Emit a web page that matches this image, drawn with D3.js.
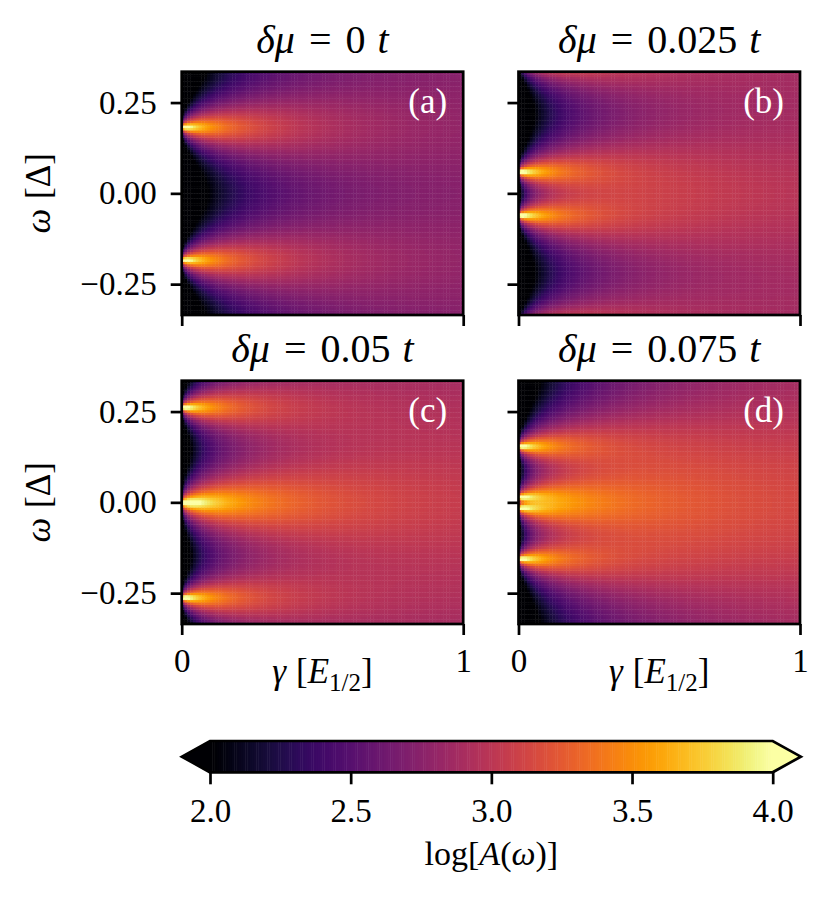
<!DOCTYPE html>
<html>
<head>
<meta charset="utf-8">
<script src="https://cdn.jsdelivr.net/npm/d3@7"></script>
<style>
  body { margin: 0; background: #fff; }
  text { font-family: "Liberation Serif", "DejaVu Serif", serif; fill: #000; }
</style>
</head>
<body>
<div id="chart"></div>
<script>
// panel titles (delta mu in units of t) and corner tags
const deltaMu = ["0", "0.025", "0.05", "0.075"];
const panelTags = ["(a)", "(b)", "(c)", "(d)"];

// level energies read off the bright streaks at gamma -> 0 (positive half, mirrored), units of Delta
// levels past the +-0.335 window are estimated from the glow along the edges
const levelsA = [0.183, 0.549, 0.915, 1.281, 1.647];
const levelsB = [0.06, 0.37, 0.68, 0.99, 1.30, 1.61];
const levelsC = [0, 0.262, 0.60, 0.95, 1.30, 1.65];
const levelsD = [0.015, 0.155, 0.58, 0.72, 1.10, 1.25, 1.60];

const yTicks = [-0.25, 0, 0.25];
const xTicks = [0, 1];
const cbTicks = [2.0, 2.5, 3.0, 3.5, 4.0];
const omegaLim = [-0.335, 0.335];
const gammaLim = [0, 1];
const colorLim = [2, 4];

// spectral function A(w) = amp * sum g/((w-e)^2+g^2), g = gScale*gamma + gFloor
const amp = 73;
const gScale = 0.2;
const gFloor = 0.001;
const nGamma = 100, nOmega = 100;

const width = 832, height = 899;
const panelW = 281.5, panelH = 243.3;
const colX = [181.7, 518.5];
const rowY = [71.7, 380.7];
const fontStack = "'Liberation Serif', 'DejaVu Serif', serif";

const svg = d3.select("#chart").append("svg")
    .attr("width", width)
    .attr("height", height);

const color = d3.scaleSequential(d3.interpolateInferno).domain(colorLim).clamp(true);

function spectrum(levels) {
    const all = levels.flatMap(e => [e, -e]);
    const cells = [];
    const dg = (gammaLim[1] - gammaLim[0]) / nGamma;
    const dw = (omegaLim[1] - omegaLim[0]) / nOmega;
    for (let i = 0; i < nGamma; i++) {
        const gamma = gammaLim[0] + (i + 0.5) * dg;
        const g = gScale * gamma + gFloor;
        for (let j = 0; j < nOmega; j++) {
            const w = omegaLim[0] + (j + 0.5) * dw;
            let a = 0;
            all.forEach(e => { a += g / ((w - e) * (w - e) + g * g); });
            cells.push({ g0: gamma - dg / 2, g1: gamma + dg / 2, w0: w - dw / 2, w1: w + dw / 2, value: Math.log10(amp * a) });
        }
    }
    return cells;
}

function styleAxis(ax, size) {
    ax.select(".domain").remove();
    ax.selectAll(".tick line").attr("stroke", "#000").attr("stroke-width", 2.7);
    ax.selectAll(".tick text").attr("font-size", size).attr("fill", "#000")
        .style("font-family", fontStack);
}

function drawPanel(levels, idx) {
    const col = idx % 2, row = Math.floor(idx / 2);
    const left = colX[col], top = rowY[row];
    const x = d3.scaleLinear().domain(gammaLim).range([left, left + panelW]);
    const y = d3.scaleLinear().domain(omegaLim).range([top + panelH, top]);

    const clipId = "clip" + idx;
    svg.append("clipPath").attr("id", clipId)
        .append("rect").attr("x", left).attr("y", top).attr("width", panelW).attr("height", panelH);

    // heatmap cells
    svg.append("g")
        .attr("clip-path", `url(#${clipId})`)
        .selectAll("rect")
        .data(spectrum(levels))
        .join("rect")
        .attr("x", d => x(d.g0))
        .attr("y", d => y(d.w1))
        .attr("width", d => x(d.g1) - x(d.g0) + 0.4)
        .attr("height", d => y(d.w0) - y(d.w1) + 0.4)
        .attr("fill", d => color(d.value));

    // axes
    const yAxis = d3.axisLeft(y).tickValues(yTicks).tickSize(11).tickSizeOuter(0).tickPadding(14)
        .tickFormat(col === 0 ? d3.format(".2f") : () => "");
    const xAxis = d3.axisBottom(x).tickValues(xTicks).tickSize(11).tickSizeOuter(0).tickPadding(14)
        .tickFormat(row === 1 ? d3.format("d") : () => "");
    styleAxis(svg.append("g").attr("transform", `translate(${left},0)`).call(yAxis), 33);
    styleAxis(svg.append("g").attr("transform", `translate(0,${top + panelH})`).call(xAxis), 33);

    // frame
    svg.append("rect")
        .attr("x", left).attr("y", top).attr("width", panelW).attr("height", panelH)
        .attr("fill", "none").attr("stroke", "#000").attr("stroke-width", 2.7);

    // title
    const t = svg.append("text")
        .attr("x", left + panelW / 2).attr("y", top - 19)
        .attr("text-anchor", "middle").attr("font-size", 40);
    t.append("tspan").attr("font-style", "italic").text("δμ");
    t.append("tspan").attr("dx", 14).text("=");
    t.append("tspan").attr("dx", 14).text(deltaMu[idx]);
    t.append("tspan").attr("dx", 12).attr("font-style", "italic").text("t");

    // corner tag
    svg.append("text")
        .attr("x", left + panelW - 16).attr("y", top + 41)
        .attr("text-anchor", "end").attr("font-size", 35)
        .style("fill", "#fff")
        .text(panelTags[idx]);

    // y label
    if (col === 0) {
        const yl = svg.append("text")
            .attr("transform", `translate(50,${top + panelH / 2}) rotate(-90)`)
            .attr("text-anchor", "middle").attr("font-size", 35);
        yl.append("tspan").attr("font-style", "italic").text("ω");
        yl.append("tspan").attr("dx", 10).text("[Δ]");
    }

    // x label
    if (row === 1) {
        const xl = svg.append("text")
            .attr("x", left + panelW / 2).attr("y", 683)
            .attr("text-anchor", "middle").attr("font-size", 35);
        xl.append("tspan").attr("font-style", "italic").text("γ");
        xl.append("tspan").attr("dx", 10).text("[");
        xl.append("tspan").attr("font-style", "italic").text("E");
        xl.append("tspan").attr("font-size", 25).attr("dy", 8).text("1/2");
        xl.append("tspan").attr("dy", -8).text("]");
    }
}

[levelsA, levelsB, levelsC, levelsD].forEach(drawPanel);

// colorbar
const cbX0 = 210, cbX1 = 772.7, cbY0 = 741, cbY1 = 772.3;
const ext = 0.05 * (cbX1 - cbX0);
const cx = d3.scaleLinear().domain(colorLim).range([cbX0, cbX1]);
const cbStep = (colorLim[1] - colorLim[0]) / 256;
const cbSteps = d3.range(colorLim[0], colorLim[1], cbStep);

const cb = svg.append("g");
cb.selectAll("rect")
    .data(cbSteps)
    .join("rect")
    .attr("x", d => cx(d))
    .attr("y", cbY0)
    .attr("width", d => cx(d + cbStep) - cx(d) + 0.5)
    .attr("height", cbY1 - cbY0)
    .attr("fill", d => color(d + cbStep / 2));

const midY = (cbY0 + cbY1) / 2;
cb.append("polygon")
    .attr("points", [[cbX0, cbY0], [cbX0 - ext, midY], [cbX0, cbY1]].join(" "))
    .attr("fill", color(colorLim[0]));
cb.append("polygon")
    .attr("points", [[cbX1, cbY0], [cbX1 + ext, midY], [cbX1, cbY1]].join(" "))
    .attr("fill", color(colorLim[1]));
cb.append("polygon")
    .attr("points", [[cbX0, cbY0], [cbX1, cbY0], [cbX1 + ext, midY], [cbX1, cbY1],
                     [cbX0, cbY1], [cbX0 - ext, midY]].join(" "))
    .attr("fill", "none").attr("stroke", "#000").attr("stroke-width", 2.7);

const cbAxis = svg.append("g")
    .attr("transform", `translate(0,${cbY1})`)
    .call(d3.axisBottom(cx).tickValues(cbTicks).tickSize(12).tickSizeOuter(0).tickPadding(14)
        .tickFormat(d3.format(".1f")));
styleAxis(cbAxis, 33);

const cbl = svg.append("text")
    .attr("x", (cbX0 + cbX1) / 2).attr("y", 865)
    .attr("text-anchor", "middle").attr("font-size", 34);
cbl.append("tspan").text("log[");
cbl.append("tspan").attr("font-style", "italic").text("A");
cbl.append("tspan").text("(");
cbl.append("tspan").attr("font-style", "italic").text("ω");
cbl.append("tspan").text(")]");
</script>
</body>
</html>
